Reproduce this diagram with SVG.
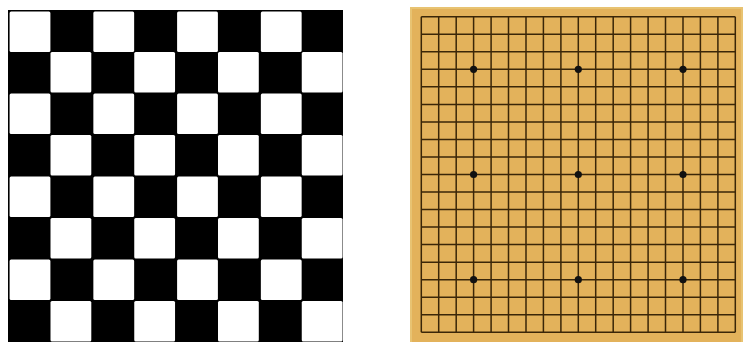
<svg xmlns="http://www.w3.org/2000/svg" width="743" height="342" viewBox="0 0 743 342">
<style>
.w{fill:#fff}
.g{stroke:#3a2608;stroke-width:1.5;fill:none}
.s{fill:#111}
</style>
<defs>
<rect id="sq" width="40.8" height="40.4" rx="1.5" class="w"/>
</defs>
<rect width="743" height="342" fill="#fff"/>
<g id="chessboard">
<rect x="8" y="10" width="335" height="332" fill="#000"/>
<g id="white-squares">
<use href="#sq" x="9.6" y="11.6"/><use href="#sq" x="93.35" y="11.6"/><use href="#sq" x="177.1" y="11.6"/><use href="#sq" x="260.85" y="11.6"/>
<use href="#sq" x="50.5" y="52.1"/><use href="#sq" x="134.25" y="52.1"/><use href="#sq" x="218" y="52.1"/><use href="#sq" x="301.75" y="52.1"/>
<use href="#sq" x="9.6" y="93.6"/><use href="#sq" x="93.35" y="93.6"/><use href="#sq" x="177.1" y="93.6"/><use href="#sq" x="260.85" y="93.6"/>
<use href="#sq" x="50.5" y="135.1"/><use href="#sq" x="134.25" y="135.1"/><use href="#sq" x="218" y="135.1"/><use href="#sq" x="301.75" y="135.1"/>
<use href="#sq" x="9.6" y="176.6"/><use href="#sq" x="93.35" y="176.6"/><use href="#sq" x="177.1" y="176.6"/><use href="#sq" x="260.85" y="176.6"/>
<use href="#sq" x="50.5" y="218.1"/><use href="#sq" x="134.25" y="218.1"/><use href="#sq" x="218" y="218.1"/><use href="#sq" x="301.75" y="218.1"/>
<use href="#sq" x="9.6" y="259.6"/><use href="#sq" x="93.35" y="259.6"/><use href="#sq" x="177.1" y="259.6"/><use href="#sq" x="260.85" y="259.6"/>
<use href="#sq" x="50.5" y="301.1"/><use href="#sq" x="134.25" y="301.1"/><use href="#sq" x="218" y="301.1"/><use href="#sq" x="301.75" y="301.1"/>
</g>
</g>
<g id="goboard">
<rect x="410" y="7" width="333" height="335" fill="#e8c372"/>
<rect x="412" y="9" width="329" height="333" fill="#e3b25b"/>
<g id="go-grid" class="g">
<path d="M421.3 16.7V332.3M438.7 16.7V332.3M456.2 16.7V332.3M473.6 16.7V332.3M491.1 16.7V332.3M508.5 16.7V332.3M526 16.7V332.3M543.4 16.7V332.3M560.9 16.7V332.3M578.3 16.7V332.3M595.7 16.7V332.3M613.2 16.7V332.3M630.6 16.7V332.3M648.1 16.7V332.3M665.5 16.7V332.3M683 16.7V332.3M700.4 16.7V332.3M717.9 16.7V332.3M735.3 16.7V332.3"/>
<path d="M421.3 16.7H735.3M421.3 34.2H735.3M421.3 51.8H735.3M421.3 69.3H735.3M421.3 86.8H735.3M421.3 104.4H735.3M421.3 121.9H735.3M421.3 139.4H735.3M421.3 157H735.3M421.3 174.5H735.3M421.3 192H735.3M421.3 209.6H735.3M421.3 227.1H735.3M421.3 244.6H735.3M421.3 262.2H735.3M421.3 279.7H735.3M421.3 297.2H735.3M421.3 314.8H735.3M421.3 332.3H735.3"/>
</g>
<g id="star-points" class="s">
<circle cx="473.6" cy="69.3" r="3.6"/><circle cx="578.3" cy="69.3" r="3.6"/><circle cx="683" cy="69.3" r="3.6"/>
<circle cx="473.6" cy="174.5" r="3.6"/><circle cx="578.3" cy="174.5" r="3.6"/><circle cx="683" cy="174.5" r="3.6"/>
<circle cx="473.6" cy="279.7" r="3.6"/><circle cx="578.3" cy="279.7" r="3.6"/><circle cx="683" cy="279.7" r="3.6"/>
</g>
</g>
</svg>
